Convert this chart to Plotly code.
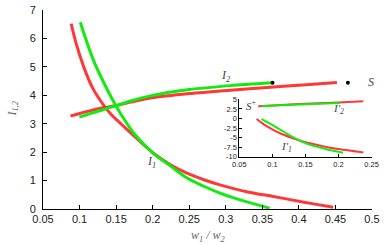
import plotly.graph_objects as go

# main plot: lower branch I1 (falling) and upper branch I2 (rising)
red_low_x = [0.0885, 0.095, 0.1057, 0.118, 0.131, 0.143, 0.156, 0.174, 0.201, 0.225, 0.247, 0.27, 0.292, 0.33, 0.365, 0.39, 0.42, 0.447]
red_low_y = [6.52, 5.85, 5.0, 4.25, 3.72, 3.33, 3.01, 2.58, 1.96, 1.55, 1.26, 1.03, 0.85, 0.6, 0.44, 0.32, 0.18, 0.06]
green_low_x = [0.101, 0.112, 0.122, 0.133, 0.145, 0.156, 0.175, 0.201, 0.225, 0.247, 0.27, 0.292, 0.31, 0.33, 0.36]
green_low_y = [6.57, 5.72, 5.05, 4.45, 3.85, 3.36, 2.64, 1.96, 1.5, 1.09, 0.8, 0.56, 0.40, 0.24, 0.03]

red_up_x = [0.0876, 0.1, 0.115, 0.13, 0.146, 0.17, 0.197, 0.25, 0.306, 0.37, 0.41, 0.452]
red_up_y = [3.27, 3.36, 3.46, 3.55, 3.62, 3.76, 3.9, 4.06, 4.18, 4.30, 4.37, 4.45]
green_up_x = [0.0998, 0.12, 0.146, 0.17, 0.197, 0.25, 0.306, 0.363]
green_up_y = [3.23, 3.4, 3.6, 3.8, 3.98, 4.2, 4.34, 4.44]

dots_x = [0.364, 0.467]
dots_y = [4.44, 4.44]

# inset: I'1 / I'2
ins_red_up_x = [0.0785, 0.12, 0.16, 0.2, 0.2376]
ins_red_up_y = [3.2, 3.6, 3.9, 4.2, 4.5]
ins_green_up_x = [0.084, 0.12, 0.16, 0.202]
ins_green_up_y = [3.22, 3.55, 3.8, 4.05]
ins_red_low_x = [0.076, 0.09, 0.1114, 0.139, 0.1518, 0.18, 0.197, 0.2376]
ins_red_low_y = [-0.15, -1.9, -3.88, -5.63, -6.3, -7.4, -7.95, -8.9]
ins_green_low_x = [0.0836, 0.095, 0.1114, 0.139, 0.1518, 0.18, 0.207]
ins_green_low_y = [-0.15, -1.2, -2.9, -5.63, -6.6, -8.0, -9.0]

ins_yticks = [5, 2.5, 0, -2.5, -5, -7.5, -10]
ins_yticktext = ["5", "2.5", "0", "-2.5", "-5", "-7.5", "-10"]
ins_xticks = [0.05, 0.1, 0.15, 0.2, 0.25]

RED = "rgba(255,20,20,0.85)"
GREEN = "#10ec10"

fig = go.Figure()

def band(x, y, color, w, xa="x", ya="y"):
    fig.add_trace(go.Scatter(x=x, y=y, mode="lines", xaxis=xa, yaxis=ya,
                             line=dict(color=color, width=w, shape="spline", smoothing=0.8),
                             showlegend=False, hoverinfo="skip"))

band(red_low_x, red_low_y, RED, 3)
band(red_up_x, red_up_y, RED, 3)
band(green_low_x, green_low_y, GREEN, 3)
band(green_up_x, green_up_y, GREEN, 3)
fig.add_trace(go.Scatter(x=dots_x, y=dots_y, mode="markers",
                         marker=dict(color="black", size=4), showlegend=False))

band(ins_red_up_x, ins_red_up_y, RED, 2, "x2", "y2")
band(ins_red_low_x, ins_red_low_y, RED, 2, "x2", "y2")
band(ins_green_up_x, ins_green_up_y, GREEN, 2, "x2", "y2")
band(ins_green_low_x, ins_green_low_y, GREEN, 2, "x2", "y2")

ax = dict(showline=True, linecolor="black", linewidth=1, ticks="inside", ticklen=4,
          tickcolor="black", mirror=False, showgrid=False, zeroline=False, automargin=False,
          tickfont=dict(family="Liberation Sans, Arial", size=11, color="#222"))
small = dict(family="Liberation Sans, Arial", size=7.5, color="#222")

fig.update_layout(
    width=390, height=245,
    margin=dict(l=43, r=18, t=10, b=36),
    paper_bgcolor="white", plot_bgcolor="white",
    xaxis=dict(ax, range=[0.05, 0.5], dtick=0.05, tick0=0.05),
    yaxis=dict(ax, range=[0, 7], dtick=1, ticklabelstandoff=4),
    xaxis2=dict(ax, domain=[0.597, 0.9985], anchor="y2", range=[0.05, 0.25], tickvals=ins_xticks,
                ticklen=3, tickfont=small),
    yaxis2=dict(ax, domain=[0.263, 0.551], anchor="x2", range=[-10, 5], tickvals=ins_yticks,
                ticktext=ins_yticktext, ticklen=3, tickfont=small),
)

serif = dict(family="Liberation Serif, Times New Roman", size=12, color="#444")
def label(text, x, y, xr="x", yr="y", size=12, color="#444", angle=0):
    fig.add_annotation(text=text, x=x, y=y, xref=xr, yref=yr, showarrow=False,
                       xanchor="center", yanchor="middle",
                       textangle=angle, font=dict(serif, size=size, color=color))

# axis titles
label("<i>w</i><sub><i>1</i></sub><i> / w</i><sub><i>2</i></sub>", 0.5, -0.135, "paper", "paper", 12, "#666")
label("<i>I</i><sub><i>1,2</i></sub>", -0.094, 0.5, "paper", "paper", 12, "#666", -90)

label("<i>I</i><sub><i>2</i></sub>", 0.299, 4.68)
label("<i>I</i><sub><i>1</i></sub>", 0.199, 1.67)
label("<i>S</i>", 0.499, 4.46)
label("<i>S</i><sup>+</sup>", 0.068, 3.6, "x2", "y2", 11)
label("<i>I'</i><sub><i>2</i></sub>", 0.2, 2.4, "x2", "y2", 11)
label("<i>I'</i><sub><i>1</i></sub>", 0.1215, -7.4, "x2", "y2", 11)

# the page body has a default 8px margin; drop it so the 390x245 figure fills the window
fig.write_html("out.html", config={"displayModeBar": False},
               post_script="document.body.style.margin='0';")
